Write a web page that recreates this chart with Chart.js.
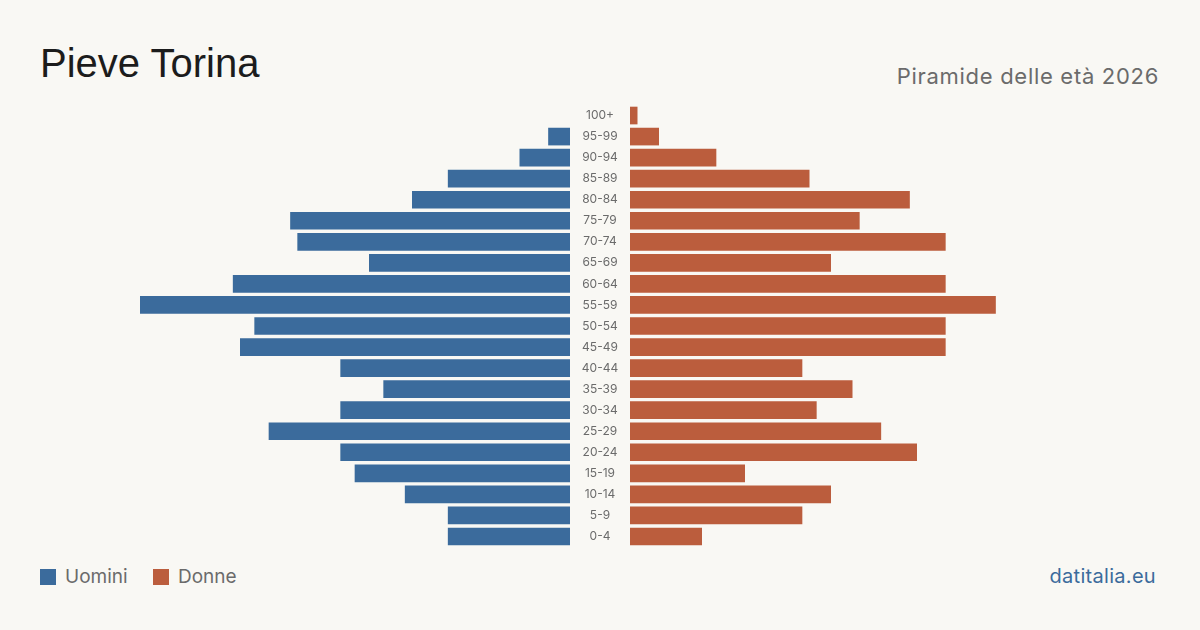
<!DOCTYPE html>
<html lang="it">
<head>
<meta charset="utf-8">
<title>Pieve Torina - Piramide delle età 2026</title>
<script src="https://cdn.jsdelivr.net/npm/chart.js@4/dist/chart.umd.min.js"></script>
<style>
  html, body { margin: 0; padding: 0; }
  body {
    width: 1200px; height: 630px; background: #f9f8f4;
    position: relative; overflow: hidden;
    font-family: "Inter", "Liberation Sans", sans-serif;
  }
  #titolo { position: absolute; left: 40px; top: 41px; font-size: 40px; color: #1c1c1c; font-family: "Liberation Sans", sans-serif; }
  #sottotitolo { position: absolute; right: 41px; top: 63px; font-size: 22px; letter-spacing: 0.7px; color: #6b6b6b; }
  #uomini { position: absolute; left: 140px; top: 105px; }
  #donne { position: absolute; left: 570px; top: 105px; }
  .legenda { position: absolute; top: 565px; font-size: 19px; color: #6b6b6b; display: flex; align-items: center; }
  .legenda span { display: inline-block; width: 16px; height: 16px; margin-right: 9px; }
  #fonte { position: absolute; right: 44px; top: 564px; font-size: 20px; letter-spacing: 0.3px; color: #3b6b9c; }
</style>
</head>
<body>
<div id="titolo">Pieve Torina</div>
<div id="sottotitolo">Piramide delle età 2026</div>
<canvas id="uomini" width="430" height="442"></canvas>
<canvas id="donne" width="490" height="442"></canvas>
<div class="legenda" style="left:40px"><span style="background:#3b6b9c"></span>Uomini</div>
<div class="legenda" style="left:153px"><span style="background:#bb5d3d"></span>Donne</div>
<div id="fonte">datitalia.eu</div>
<script>
// classi di età, dall'alto verso il basso
const eta = ["100+", "95-99", "90-94", "85-89", "80-84", "75-79", "70-74", "65-69", "60-64", "55-59",
  "50-54", "45-49", "40-44", "35-39", "30-34", "25-29", "20-24", "15-19", "10-14", "5-9", "0-4"];
const uomini = [null, 3, 7, 17, 22, 39, 38, 28, 47, 60, 44, 46, 32, 26, 32, 42, 32, 30, 23, 17, 17];
const donne = [1, 4, 12, 25, 39, 32, 44, 28, 44, 51, 44, 44, 24, 31, 26, 35, 40, 16, 28, 24, 10];
const massimo = 60;

const blu = "#3b6b9c";
const arancio = "#bb5d3d";

// etichette delle età nella colonna centrale
const etichette = {
  id: "etichette",
  afterDraw(chart) {
    const ctx = chart.ctx;
    const y = chart.scales.y;
    ctx.save();
    ctx.fillStyle = "#6b6b6b";
    ctx.font = "12px Inter";
    ctx.textAlign = "center";
    ctx.textBaseline = "middle";
    eta.forEach((e, i) => ctx.fillText(e, 30, y.getPixelForValue(i)));
    ctx.restore();
  }
};

// grafico degli uomini, verso sinistra
new Chart(document.getElementById("uomini"), {
  type: "bar",
  data: {
    labels: eta,
    datasets: [{ label: "Uomini", data: uomini, backgroundColor: blu, barThickness: 17 }]
  },
  options: {
    indexAxis: "y",
    responsive: false,
    animation: false,
    layout: { padding: 0 },
    plugins: { legend: { display: false }, tooltip: { enabled: false } },
    scales: {
      x: { min: 0, max: massimo, reverse: true, display: false },
      y: { display: false }
    }
  }
});

// grafico delle donne, verso destra
new Chart(document.getElementById("donne"), {
  type: "bar",
  data: {
    labels: eta,
    datasets: [{ label: "Donne", data: donne, backgroundColor: arancio, barThickness: 17 }]
  },
  options: {
    indexAxis: "y",
    responsive: false,
    animation: false,
    layout: { padding: { left: 60, top: 0, right: 0, bottom: 0 } },
    plugins: { legend: { display: false }, tooltip: { enabled: false } },
    scales: {
      x: { min: 0, max: massimo, display: false },
      y: { display: false }
    }
  },
  plugins: [etichette]
});
</script>
</body>
</html>
